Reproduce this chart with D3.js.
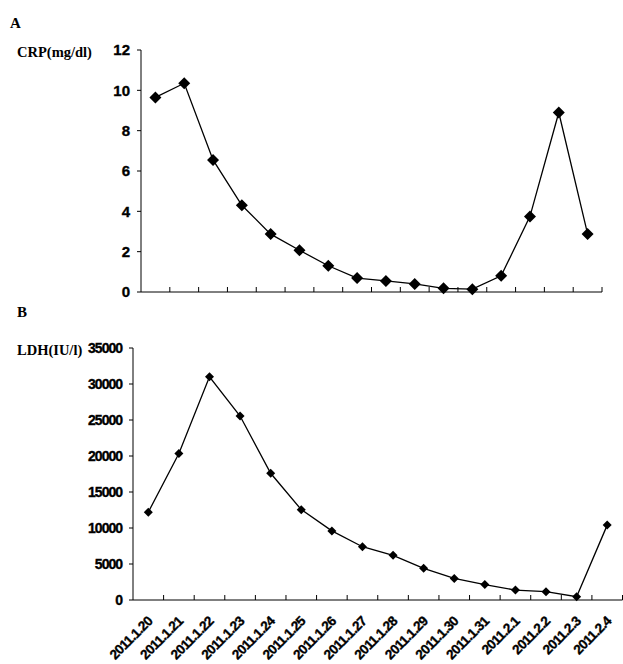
<!DOCTYPE html>
<html>
<head>
<meta charset="utf-8">
<script src="https://cdn.jsdelivr.net/npm/d3@7"></script>
<style>
  body { margin: 0; background: #fff; }
  svg { display: block; }
  .panel-label { font-family: "Liberation Serif", serif; font-weight: bold; }
  .tick-label { font-family: "Liberation Sans", Arial, sans-serif; font-weight: bold; stroke: #000; stroke-width: 0.35px; }
</style>
</head>
<body>
<div id="chart"></div>
<script>
// dates on the x axis (shared by both panels)
const dates = ["2011.1.20", "2011.1.21", "2011.1.22", "2011.1.23", "2011.1.24", "2011.1.25",
  "2011.1.26", "2011.1.27", "2011.1.28", "2011.1.29", "2011.1.30", "2011.1.31",
  "2011.2.1", "2011.2.2", "2011.2.3", "2011.2.4"];

// panel A: CRP (mg/dl)
const crpValues = [9.65, 10.35, 6.55, 4.3, 2.87, 2.07, 1.3, 0.69, 0.55, 0.4, 0.18, 0.14, 0.8, 3.75, 8.9, 2.88];
const crpTicks = [0, 2, 4, 6, 8, 10, 12];

// panel B: LDH (IU/l)
const ldhValues = [12200, 20350, 31000, 25550, 17600, 12550, 9600, 7400, 6200, 4400, 3000, 2150, 1380, 1150, 450, 10400];
const ldhTicks = [0, 5000, 10000, 15000, 20000, 25000, 30000, 35000];

const width = 623, height = 664;

const svg = d3.select("#chart").append("svg")
    .attr("width", width)
    .attr("height", height);

// draws one panel: axes, line and diamond markers
function drawPanel(opts) {
    const x = d3.scaleBand().domain(dates).range([opts.x0, opts.x1]).paddingInner(0).paddingOuter(0);
    const y = d3.scaleLinear().domain(opts.domain).range([opts.y0, opts.y1]);
    const g = svg.append("g");

    // y axis line + ticks
    g.append("line")
        .attr("x1", opts.x0).attr("x2", opts.x0)
        .attr("y1", y(opts.domain[0])).attr("y2", y(opts.domain[1]))
        .attr("stroke", "#000").attr("stroke-width", 1);
    g.selectAll(".ytick").data(opts.ticks).enter().append("line")
        .attr("x1", opts.x0 - 4).attr("x2", opts.x0)
        .attr("y1", d => y(d)).attr("y2", d => y(d))
        .attr("stroke", "#000");
    g.selectAll(".ylab").data(opts.ticks).enter().append("text")
        .attr("class", "tick-label")
        .attr("x", opts.x0 - 11)
        .attr("y", d => y(d))
        .attr("dy", "0.36em")
        .attr("text-anchor", "end")
        .style("font-size", opts.tickFont + "px")
        .style("letter-spacing", opts.tickSpacing + "px")
        .text(d => d);

    // x axis line + ticks between categories (pointing up)
    g.append("line")
        .attr("x1", opts.x0).attr("x2", opts.x1)
        .attr("y1", opts.y0).attr("y2", opts.y0)
        .attr("stroke", "#000");
    const bounds = dates.map(d => x(d) + x.bandwidth());
    g.selectAll(".xtick").data(bounds).enter().append("line")
        .attr("x1", d => d).attr("x2", d => d)
        .attr("y1", opts.y0).attr("y2", opts.y0 - 5)
        .attr("stroke", "#000");

    const pts = dates.map((d, i) => [x(d) + x.bandwidth() / 2, y(opts.values[i])]);

    g.append("path")
        .attr("d", d3.line()(pts))
        .attr("fill", "none")
        .attr("stroke", "#000")
        .attr("stroke-width", 1.3);

    const r = opts.marker;
    g.selectAll(".mark").data(pts).enter().append("path")
        .attr("d", p => `M${p[0]},${p[1] - r}L${p[0] + r},${p[1]}L${p[0]},${p[1] + r}L${p[0] - r},${p[1]}Z`)
        .attr("fill", "#000");

    // panel letter and y title
    svg.append("text").attr("class", "panel-label")
        .attr("x", opts.letterX).attr("y", opts.letterY)
        .style("font-size", "15px")
        .text(opts.letter);
    svg.append("text").attr("class", "panel-label")
        .attr("x", 17).attr("y", opts.titleY)
        .style("font-size", "14.5px")
        .text(opts.title);

    return x;
}

drawPanel({
    values: crpValues, ticks: crpTicks, domain: [0, 12],
    x0: 141, x1: 602, y0: 292, y1: 50,
    marker: 6, tickFont: 15, tickSpacing: 0,
    letter: "A", letterX: 10, letterY: 28,
    title: "CRP(mg/dl)", titleY: 57
});

const xB = drawPanel({
    values: ldhValues, ticks: ldhTicks, domain: [0, 35000],
    x0: 133, x1: 622.5, y0: 600, y1: 348,
    marker: 4.5, tickFont: 14, tickSpacing: -1,
    letter: "B", letterX: 17, letterY: 317,
    title: "LDH(IU/l)", titleY: 355
});

// rotated date labels under panel B
svg.append("g").selectAll("text").data(dates).enter().append("text")
    .attr("class", "tick-label")
    .attr("text-anchor", "end")
    .attr("transform", d => `translate(${xB(d) + xB.bandwidth() / 2 + 5},${622}) rotate(-45)`)
    .style("font-size", "13.5px")
    .style("letter-spacing", "-0.6px")
    .text(d => d);
</script>
</body>
</html>
